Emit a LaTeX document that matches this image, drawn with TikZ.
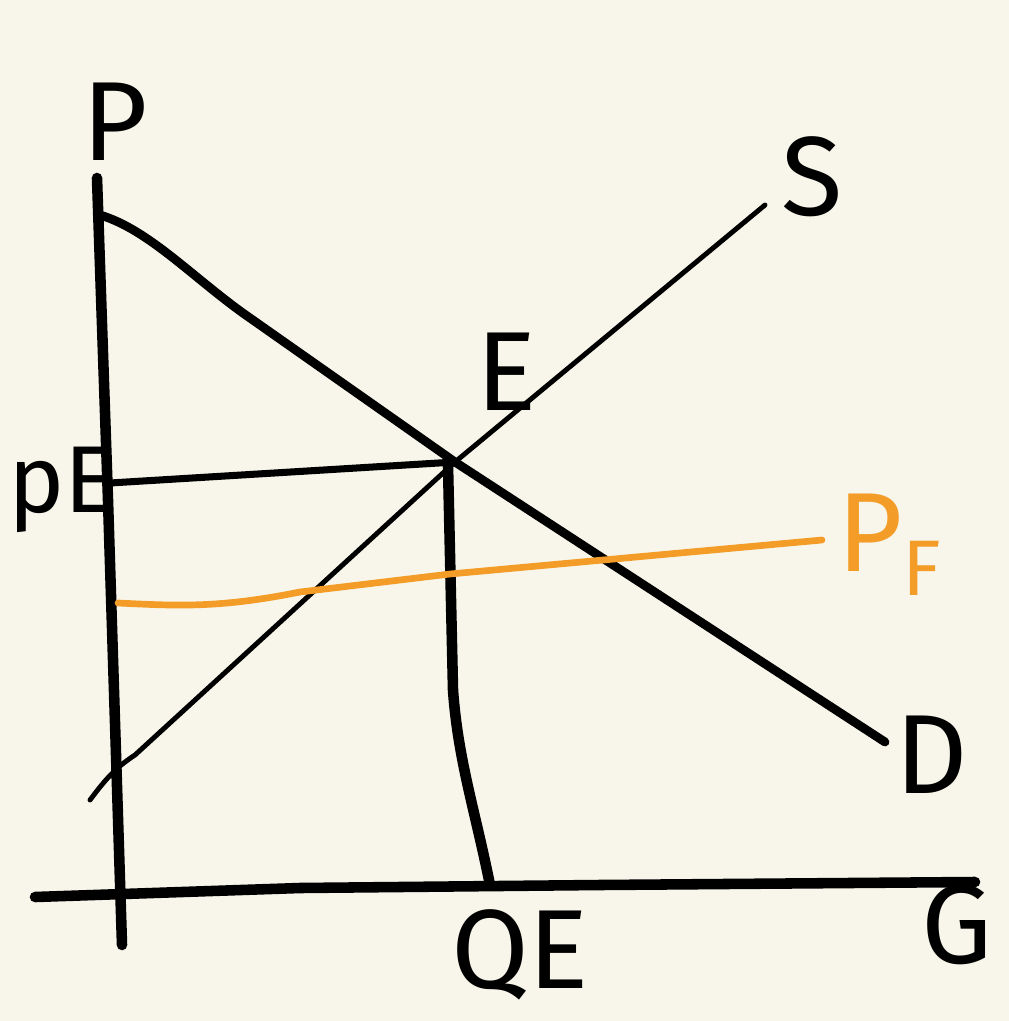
\documentclass[tikz,border=0pt]{standalone}
\usepackage{fontspec}
\setmainfont{Fira Sans}
\usetikzlibrary{positioning}
\definecolor{paper}{HTML}{F8F6EA}
\definecolor{pforange}{HTML}{F39C28}

\begin{document}
\begin{tikzpicture}[x=0.01cm, y=-0.01cm, line cap=round, line join=round,
		axis/.style={line width=3pt},
		curve/.style={line width=2.5pt},
		thin curve/.style={line width=1.4pt},
		guide/.style={line width=2pt},
		lbl/.style={font=\fontsize{32}{38}\selectfont, inner sep=0pt}]
			\fill [paper] (0,0) rectangle (1009,1021);
			\useasboundingbox (0,0) rectangle (1009,1021);
			
			% axes
			\coordinate (ptop) at (97,178);
			\coordinate (pbot) at (122,945);
			\coordinate (gleft) at (35,897);
			\coordinate (gright) at (975,882);
			\draw [axis] (ptop) -- (108,500) -- (pbot);
			\draw [axis] (gleft) -- (300,888) -- (600,885) -- (gright);
			
			% demand and supply
			\coordinate (dtop) at (100,215);
			\coordinate (dend) at (885,742);
			\coordinate (sbot) at (90,800);
			\coordinate (send) at (765,205);
			\coordinate (eq) at (455,462);
			\draw [curve] (dtop) .. controls (150,230) and (195,280) .. (250,318) -- (eq) -- (dend);
			\draw [thin curve] (sbot) .. controls (105,780) and (115,768) .. (135,755) -- (eq) -- (send);
			
			% equilibrium guides
			\coordinate (pe) at (110,483);
			\coordinate (qe) at (490,885);
			\draw [guide] (pe) -- (eq);
			\draw [axis] (448,465) -- (453,690) .. controls (458,760) and (475,810) .. (qe);
			
			% price floor
			\coordinate (pfl) at (118,603);
			\coordinate (pfr) at (822,540);
			\draw [pforange, line width=1.9pt] (pfl) .. controls (180,606) and (220,608) .. (300,592) -- (450,574) -- (pfr);
			
			% labels
			\node [lbl] (plab) at (115,122) {P};
			\node [lbl] (slab) at (812,177) {S};
			\node [lbl] (elab) at (507,372) {E};
			\node [lbl, font=\fontsize{27}{32}\selectfont] (pelab) at (62,490) {pE};
			\node [lbl, pforange] (pflab) at (890,545) {P\textsubscript{F}};
			\node [lbl] (dlab) at (932,755) {D};
			\node [lbl] (qelab) at (520,955) {QE};
			\node [lbl] (glab) at (957,925) {G};
		\end{tikzpicture}
\end{document}
